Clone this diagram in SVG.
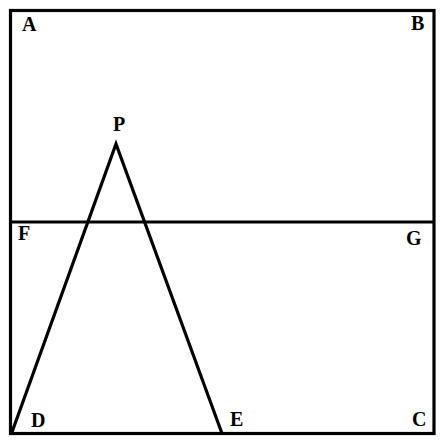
<svg xmlns="http://www.w3.org/2000/svg" width="444" height="444" viewBox="0 0 444 444">
<style>
.l{fill:none;stroke:#000;stroke-width:3.2;stroke-linejoin:miter}
.t{font-family:"Liberation Serif","Times New Roman",serif;font-weight:bold;font-size:20px;fill:#000}
</style>
<rect width="444" height="444" fill="#fff"/>
<g id="connectors">
<rect class="l" x="10.5" y="10.5" width="423.5" height="423"/>
<line class="l" x1="10.5" y1="222" x2="434" y2="222"/>
<polyline class="l" points="11.5,433.5 116,144 222,433.5"/>
</g>
<g id="A"><text class="t" x="22" y="31">A</text></g>
<g id="B"><text class="t" x="411" y="30">B</text></g>
<g id="P"><text class="t" x="113" y="131">P</text></g>
<g id="F"><text class="t" x="18" y="240">F</text></g>
<g id="G"><text class="t" x="406" y="245">G</text></g>
<g id="D"><text class="t" x="31" y="427">D</text></g>
<g id="E"><text class="t" x="230" y="426">E</text></g>
<g id="C"><text class="t" x="412" y="426">C</text></g>
</svg>
